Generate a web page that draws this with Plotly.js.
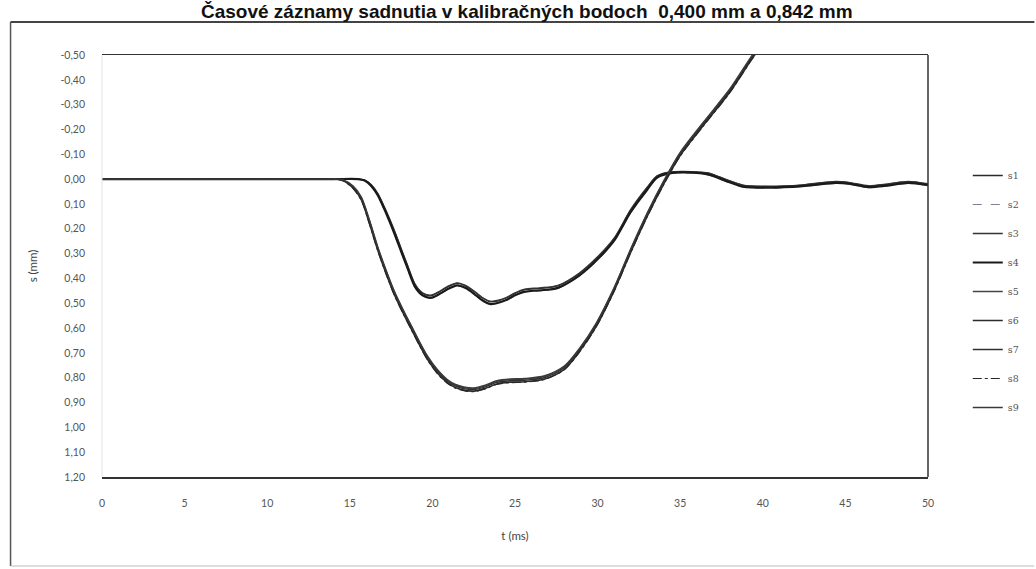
<!DOCTYPE html>
<html>
<head>
<meta charset="utf-8">
<script src="https://cdn.plot.ly/plotly-3.0.1.min.js"></script>
<style>html,body{margin:0;padding:0;background:#fff;}#chart{width:1036px;height:569px;}</style>
</head>
<body>
<div id="chart"></div>
<script>
// ---- data ----
const chartTitle = "Časové záznamy sadnutia v kalibračných bodoch  0,400 mm a 0,842 mm";
const seriesNames = ["s1","s2","s3","s4","s5","s6","s7","s8","s9"];

// time axis of the shallow group (0,400 mm)
const tA = [0,14,15.5,15.9,16.3,16.7,17.2,17.7,18.1,18.5,18.95,19.4,19.9,20.4,20.9,21.5,22.0,22.6,23.0,23.5,24.0,24.5,25.0,25.6,26.5,27.6,28.9,30.0,31.0,32.0,33.0,33.6,34.4,35.2,36.2,36.8,37.8,38.8,40.4,42.4,44.4,45.2,46.4,47.6,48.8,50.0];
const s1 = [0,0,0,0.005,0.025,0.06,0.13,0.21,0.28,0.35,0.425,0.46,0.47,0.455,0.435,0.42,0.43,0.457,0.478,0.494,0.49,0.478,0.46,0.445,0.44,0.43,0.38,0.315,0.24,0.125,0.035,-0.012,-0.028,-0.03,-0.027,-0.022,0.003,0.025,0.03,0.024,0.01,0.014,0.028,0.02,0.01,0.02];
const s2 = [0,0,0,0.007,0.03,0.068,0.14,0.222,0.292,0.362,0.436,0.47,0.48,0.466,0.446,0.43,0.44,0.468,0.489,0.505,0.5,0.488,0.47,0.455,0.45,0.44,0.39,0.325,0.25,0.135,0.045,-0.004,-0.022,-0.025,-0.022,-0.015,0.01,0.032,0.036,0.03,0.017,0.02,0.034,0.027,0.017,0.026];
const s3 = [0,0,0,0.004,0.023,0.058,0.128,0.207,0.278,0.348,0.423,0.458,0.468,0.453,0.433,0.418,0.428,0.455,0.476,0.492,0.488,0.476,0.458,0.443,0.438,0.428,0.378,0.313,0.238,0.123,0.033,-0.013,-0.029,-0.031,-0.028,-0.023,0.002,0.024,0.029,0.023,0.009,0.013,0.027,0.019,0.009,0.019];
const s4 = [0,0,0,0.006,0.028,0.066,0.138,0.219,0.29,0.36,0.434,0.468,0.478,0.464,0.444,0.428,0.438,0.466,0.487,0.503,0.498,0.486,0.468,0.453,0.448,0.438,0.388,0.323,0.248,0.133,0.043,-0.006,-0.024,-0.027,-0.024,-0.017,0.008,0.03,0.034,0.028,0.015,0.018,0.032,0.025,0.015,0.024];

// time axis of the deep group (0,842 mm)
const tB = [0,13.5,14.2,14.6,15.2,15.7,16.2,16.7,17.2,17.7,18.2,18.7,19.2,19.7,20.3,20.9,21.4,21.9,22.5,23.2,23.9,24.7,25.6,26.8,28.0,28.9,29.9,31.0,32.0,33.0,34.0,35.0,36.4,38.0,39.4,40.0];
const s5 = [0,0,0,0.004,0.03,0.075,0.17,0.277,0.37,0.455,0.525,0.59,0.655,0.715,0.77,0.81,0.83,0.84,0.844,0.833,0.815,0.808,0.806,0.795,0.755,0.685,0.585,0.44,0.285,0.14,0.01,-0.105,-0.226,-0.36,-0.5,-0.55];
const s6 = [0,0,0,0.006,0.036,0.084,0.181,0.288,0.381,0.466,0.536,0.601,0.666,0.726,0.781,0.82,0.84,0.85,0.854,0.843,0.825,0.818,0.816,0.805,0.765,0.695,0.595,0.45,0.295,0.15,0.02,-0.095,-0.216,-0.35,-0.49,-0.54];
const s7 = [0,0,0,0.005,0.032,0.078,0.174,0.281,0.374,0.459,0.529,0.594,0.659,0.719,0.774,0.814,0.834,0.844,0.848,0.837,0.819,0.812,0.81,0.799,0.759,0.689,0.589,0.444,0.289,0.144,0.014,-0.101,-0.222,-0.356,-0.496,-0.546];
const s8 = [0,0,0,0.007,0.038,0.086,0.183,0.29,0.383,0.468,0.538,0.603,0.668,0.728,0.783,0.822,0.842,0.852,0.856,0.845,0.827,0.82,0.818,0.807,0.767,0.697,0.597,0.452,0.297,0.152,0.022,-0.093,-0.214,-0.348,-0.488,-0.538];
const s9 = [0,0,0,0.003,0.028,0.072,0.167,0.274,0.367,0.452,0.522,0.587,0.652,0.712,0.767,0.807,0.827,0.837,0.841,0.83,0.812,0.805,0.803,0.792,0.752,0.682,0.582,0.437,0.282,0.137,0.007,-0.108,-0.229,-0.363,-0.503,-0.553];

const xTickVals = [0,5,10,15,20,25,30,35,40,45,50];
const xTickText = ["0","5","10","15","20","25","30","35","40","45","50"];
const yTickVals = [-0.5,-0.4,-0.3,-0.2,-0.1,0,0.1,0.2,0.3,0.4,0.5,0.6,0.7,0.8,0.9,1.0,1.1,1.2];
const yTickText = ["-0,50","-0,40","-0,30","-0,20","-0,10","0,00","0,10","0,20","0,30","0,40","0,50","0,60","0,70","0,80","0,90","1,00","1,10","1,20"];

// ---- styles ----
const xs = [tA,tA,tA,tA,tB,tB,tB,tB,tB];
const ys = [s1,s2,s3,s4,s5,s6,s7,s8,s9];
const styles = [
  {color:"#2a2a2a", width:1.3, dash:"solid"},
  {color:"#7d8196", width:1.2, dash:"dash"},
  {color:"#333333", width:1.4, dash:"solid"},
  {color:"#1a1a1a", width:2.2, dash:"solid"},
  {color:"#444444", width:1.3, dash:"solid"},
  {color:"#2b2b2b", width:1.6, dash:"solid"},
  {color:"#303030", width:1.4, dash:"solid"},
  {color:"#262626", width:1.2, dash:"dashdot"},
  {color:"#3a3a3a", width:1.4, dash:"solid"}
];

const traces = seriesNames.map((n,i)=>({
  type:"scatter", mode:"lines", name:n, x:xs[i], y:ys[i],
  legendgroup:n,
  line:{color:styles[i].color, width:styles[i].width, dash:styles[i].dash, shape:"spline", smoothing:0.8}
}));

const L=102, R=933, T=55, B=477, W=1036, H=569;
const pw=R-L, ph=B-T;
const px = v => (v-L)/pw;
const py = v => (B-v)/ph;

const layout = {
  width:W, height:H,
  margin:{l:L, r:W-R, t:T, b:H-B, pad:0},
  paper_bgcolor:"#fff", plot_bgcolor:"#fff",
  showlegend:true,
  font:{family:"Lato, 'Open Sans', sans-serif", color:"#444", size:10},
  xaxis:{
    range:[0,50], tickmode:"array", tickvals:xTickVals, ticktext:xTickText,
    showgrid:false, zeroline:false, showline:true, mirror:true, linecolor:"#333", linewidth:1.5,
    ticks:"", ticklabelstandoff:16,
    tickfont:{size:10.5, color:"#555"},
    title:{text:"t (ms)", font:{size:11.5, color:"#444"}, standoff:24}
  },
  yaxis:{
    range:[1.2,-0.5], tickmode:"array", tickvals:yTickVals, ticktext:yTickText,
    showgrid:false, zeroline:false, showline:false,
    ticks:"", ticklabelstandoff:16,
    tickfont:{size:10.5, color:"#555"},
    title:{text:"s (mm)", font:{size:11.5, color:"#444"}, standoff:20}
  },
  legend:{
    x:px(973), y:py(161), xanchor:"left", yanchor:"top",
    font:{size:9.5, color:"#555", family:"'DejaVu Serif', serif"},
    tracegroupgap:10, itemwidth:30, bgcolor:"rgba(0,0,0,0)"
  },
  annotations:[{
    text:"<b>"+chartTitle+"</b>", xref:"paper", yref:"paper",
    x:px(530), y:py(-1), xanchor:"center", yanchor:"top", showarrow:false,
    font:{family:"'Liberation Sans', Arial, sans-serif", size:19, color:"#111"}
  }],
  shapes:[
    {type:"line", xref:"paper", yref:"paper", x0:1, x1:1, y0:0, y1:1, line:{color:"#333", width:1.5}},
    {type:"line", xref:"paper", yref:"paper", x0:0, x1:0, y0:0, y1:1, line:{color:"#e4e4e4", width:1}},
    {type:"line", xref:"paper", yref:"paper", x0:px(10), x1:px(10), y0:py(22), y1:py(566), line:{color:"#555", width:1.5}},
    {type:"line", xref:"paper", yref:"paper", x0:px(10), x1:px(1040), y0:py(22), y1:py(22), line:{color:"#444", width:2}},
    {type:"line", xref:"paper", yref:"paper", x0:px(10), x1:px(1040), y0:py(566), y1:py(566), line:{color:"#bbb", width:1}}
  ]
};

Plotly.newPlot("chart", traces, layout, {staticPlot:true, displayModeBar:false});
</script>
</body>
</html>
